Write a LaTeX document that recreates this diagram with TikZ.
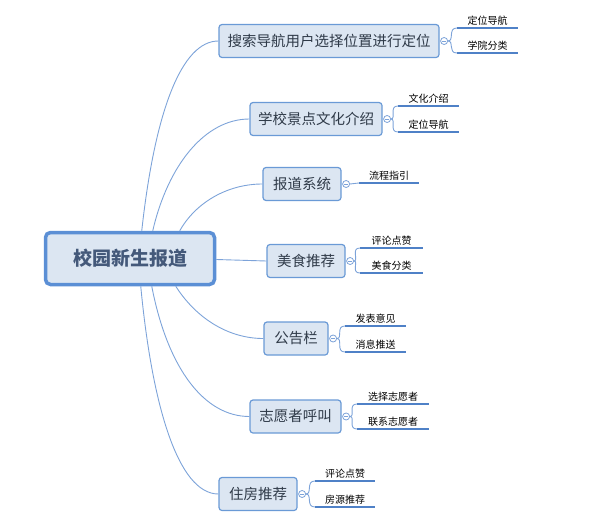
\documentclass[tikz,border=0pt]{standalone}
\usepackage{fontspec}
\newfontfamily\cjk{Noto Sans CJK SC}
\usetikzlibrary{calc}
\definecolor{boxfill}{HTML}{DCE6F2}
\definecolor{boxborder}{HTML}{6A9AD6}
\definecolor{rootborder}{HTML}{5B8FD5}
\definecolor{conn}{HTML}{7DA3D9}
\definecolor{leafcol}{HTML}{4F81C7}
\definecolor{roottext}{HTML}{44597A}
\definecolor{childtext}{HTML}{2F3A48}
\tikzset{
  rootbox/.style={rounded corners=5pt, draw=rootborder, line width=3.5pt, fill=boxfill,
    minimum width=169pt, minimum height=52pt, inner sep=0pt,
    font=\cjk\fontsize{19}{19}\selectfont\bfseries, text=roottext},
  childbox/.style={rounded corners=3pt, draw=boxborder, line width=1.2pt, fill=boxfill,
    minimum height=33pt, inner sep=0pt, font=\cjk\fontsize{14.5}{15}\selectfont, text=childtext},
  leafnode/.style={anchor=south, inner xsep=0pt, inner ysep=2.5pt, font=\cjk\fontsize{10}{10}\selectfont, text=black},
  leafline/.style={draw=leafcol, line width=2.4pt},
  conline/.style={draw=conn, line width=0.9pt},
  toggle/.style={circle, draw=conn, fill=white, line width=0.8pt, minimum size=7pt, inner sep=0pt},
}
\newcommand{\togglemark}[1]{\draw[conn, line width=0.8pt] ($(#1)+(-2,0)$) -- ($(#1)+(2,0)$);}
\begin{document}
\begin{tikzpicture}[x=1pt,y=-1pt]
\useasboundingbox (0,0) rectangle (600,525);
% root
\node[rootbox] (root) at (130,258.5) {校园新生报道};
% children
\node[childbox, minimum width=220pt] (c1) at (329,41) {搜索导航用户选择位置进行定位};
\node[childbox, minimum width=132pt] (c2) at (316,119) {学校景点文化介绍};
\node[childbox, minimum width=78pt] (c3) at (302,184) {报道系统};
\node[childbox, minimum width=78pt] (c4) at (306,261) {美食推荐};
\node[childbox, minimum width=64pt] (c5) at (296,338.5) {公告栏};
\node[childbox, minimum width=91pt] (c6) at (295.5,416.5) {志愿者呼叫};
\node[childbox, minimum width=78pt] (c7) at (258,494) {住房推荐};
% root connectors
\draw[conline] ($(root.north west)+(98,0)$) .. controls (155,110) and (182,41) .. (c1.west);
\draw[conline] ($(root.north west)+(109,0)$) .. controls (168,165) and (205,119) .. (c2.west);
\draw[conline] ($(root.north west)+(136,0)$) .. controls (196,202) and (228,184) .. (c3.west);
\draw[conline] ($(root.east)+(0,1)$) -- (c4.west);
\draw[conline] ($(root.south west)+(132,0)$) .. controls (196,318) and (228,338.5) .. (c5.west);
\draw[conline] ($(root.south west)+(108,0)$) .. controls (168,370) and (205,416.5) .. (c6.west);
\draw[conline] ($(root.south west)+(97,0)$) .. controls (152,405) and (178,494) .. (c7.west);
% toggles
\node[toggle] (t1) at ($(c1.east)+(4.5,0)$) {};
\node[toggle] (t2) at ($(c2.east)+(4.5,0)$) {};
\node[toggle] (t3) at ($(c3.east)+(4.5,0)$) {};
\node[toggle] (t4) at ($(c4.east)+(4.5,0)$) {};
\node[toggle] (t5) at ($(c5.east)+(4.5,0)$) {};
\node[toggle] (t6) at ($(c6.east)+(4.5,0)$) {};
\node[toggle] (t7) at ($(c7.east)+(4.5,0)$) {};
\togglemark{t1}\togglemark{t2}\togglemark{t3}\togglemark{t4}\togglemark{t5}\togglemark{t6}\togglemark{t7}
% leaves
\node[leafnode, minimum width=61pt] (l1a) at (487.5,28) {定位导航};
\node[leafnode, minimum width=61pt] (l1b) at (487.5,53) {学院分类};
\node[leafnode, minimum width=61pt] (l2a) at (428.5,106) {文化介绍};
\node[leafnode, minimum width=61pt] (l2b) at (428.5,132) {定位导航};
\node[leafnode, minimum width=60pt] (l3a) at (389,183) {流程指引};
\node[leafnode, minimum width=63pt] (l4a) at (391.5,248) {评论点赞};
\node[leafnode, minimum width=63pt] (l4b) at (391.5,273) {美食分类};
\node[leafnode, minimum width=61pt] (l5a) at (375.5,326) {发表意见};
\node[leafnode, minimum width=61pt] (l5b) at (375.5,352) {消息推送};
\node[leafnode, minimum width=72pt] (l6a) at (393,404) {选择志愿者};
\node[leafnode, minimum width=72pt] (l6b) at (393,429) {联系志愿者};
\node[leafnode, minimum width=60pt] (l7a) at (345,481) {评论点赞};
\node[leafnode, minimum width=60pt] (l7b) at (345,507) {房源推荐};
\foreach \l in {l1a,l1b,l2a,l2b,l3a,l4a,l4b,l5a,l5b,l6a,l6b,l7a,l7b}{
  \draw[leafline] (\l.south west) -- (\l.south east);
}
% brackets
\foreach \t/\l in {t1/l1a,t1/l1b,t2/l2a,t2/l2b,t4/l4a,t4/l4b,t5/l5a,t5/l5b,t6/l6a,t6/l6b,t7/l7a,t7/l7b}{
  \draw[conline] (\t.east) .. controls ($(\t.east)!0.5!(\t.east -| \l.south west)+(2,0)$) and ($(\l.south west)+(-9,0)$) .. (\l.south west);
}
\draw[conline] (t3.east) -- (l3a.south west);
\end{tikzpicture}
\end{document}
